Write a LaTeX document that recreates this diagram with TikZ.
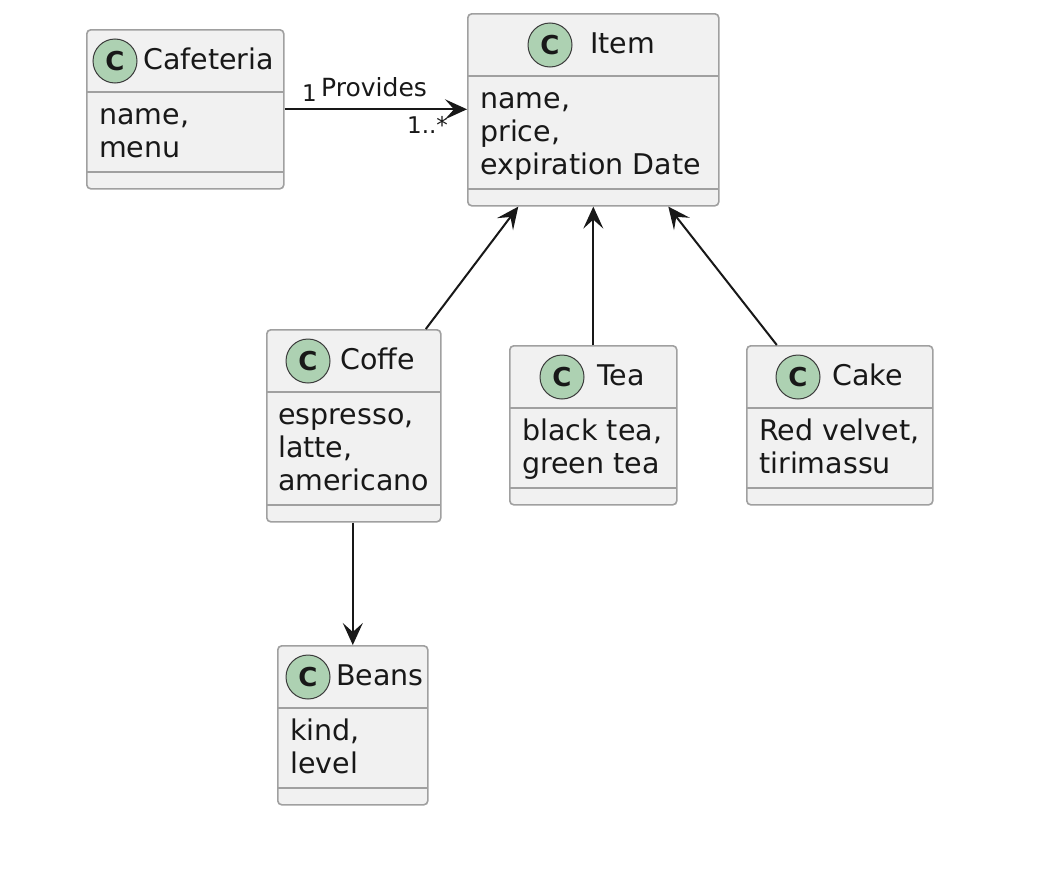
\documentclass[tikz,border=0pt]{standalone}
\usepackage{fontspec}
\setmainfont{DejaVu Sans}
\usetikzlibrary{arrows.meta}
\definecolor{boxfill}{HTML}{F1F1F1}
\definecolor{boxline}{HTML}{A0A0A0}
\definecolor{circfill}{HTML}{ADD1B2}
\definecolor{ink}{HTML}{181818}
\tikzset{
 cls/.style={draw=boxline, fill=boxfill, line width=1.6pt, rounded corners=4pt, inner sep=0pt, anchor=north west},
 sepline/.style={draw=boxline, line width=1.6pt},
 circ/.style={circle, draw=ink!85, fill=circfill, line width=1pt, minimum size=44pt, inner sep=0pt, text=ink, font=\fontsize{26}{26}\selectfont\bfseries},
 title/.style={anchor=base west, inner sep=0pt, font=\fontsize{28.5}{33}\selectfont, text=ink},
 attr/.style={anchor=base west, inner sep=0pt, font=\fontsize{28.5}{33}\selectfont, text=ink},
 lbl/.style={anchor=base west, inner sep=0pt, font=\fontsize{25}{30}\selectfont, text=ink},
 mult/.style={anchor=base west, inner sep=0pt, font=\fontsize{23}{28}\selectfont, text=ink},
 conn/.style={draw=ink, line width=2pt, -{Stealth[length=22pt,width=20pt,inset=9pt]}},
}
% id, left, right, top, nlines, circle x, title x, title
\newcommand\umlclass[8]{%
 \pgfmathsetmacro\clsHt{159+33*(#5-2)}%
 \node[cls, minimum width={#3-#2}, minimum height=\clsHt] (#1) at (#2,#4) {};
 \draw[sepline] (#2,#4+63) -- (#3,#4+63);
 \draw[sepline] (#2,#4+\clsHt-16) -- (#3,#4+\clsHt-16);
 \node[circ] (#1-c) at (#6,#4+32) {C};
 \node[title] (#1-t) at (#7,#4+40) {#8};
}
\begin{document}
\begin{tikzpicture}[x=1pt,y=-1pt]
\useasboundingbox[fill=white] (0,0) rectangle (1064,886);

\umlclass{caf}{86}{283}{29}{2}{115}{143}{Cafeteria}
\node[attr] (caf-a1) at (99,124) {name,};
\node[attr] (caf-a2) at (99,157) {menu};

\umlclass{item}{467}{718}{13}{3}{550}{590}{Item}
\node[attr] (item-a1) at (480,108) {name,};
\node[attr] (item-a2) at (480,141) {price,};
\node[attr] (item-a3) at (480,174) {expiration Date};

\umlclass{coffe}{266}{440}{329}{3}{308}{340}{Coffe}
\node[attr] (coffe-a1) at (278,424) {espresso,};
\node[attr] (coffe-a2) at (278,457) {latte,};
\node[attr] (coffe-a3) at (278,490) {americano};

\umlclass{tea}{509}{676}{345}{2}{562}{597}{Tea}
\node[attr] (tea-a1) at (522,440) {black tea,};
\node[attr] (tea-a2) at (522,473) {green tea};

\umlclass{cake}{746}{932}{345}{2}{798}{832}{Cake}
\node[attr] (cake-a1) at (759,440) {Red velvet,};
\node[attr] (cake-a2) at (759,473) {tirimassu};

\umlclass{beans}{277}{427}{645}{2}{308}{336}{Beans}
\node[attr] (beans-a1) at (290,740) {kind,};
\node[attr] (beans-a2) at (290,773) {level};

% connectors
\draw[conn] (caf.east) -- (caf.east -| item.west);
\node[lbl] (provides) at (321,96) {Provides};
\node[mult] (m1) at (302,101) {1};
\node[mult] (m2) at (407,133) {1..*};

\draw[conn] ([xshift=72pt]coffe.north) -- ([xshift=-75pt]item.south);
\draw[conn] (tea.north) -- (tea.north |- item.south);
\draw[conn] ([xshift=-63pt]cake.north) -- ([xshift=75pt]item.south);
\draw[conn] (beans.north |- coffe.south) -- (beans.north);
\end{tikzpicture}
\end{document}
